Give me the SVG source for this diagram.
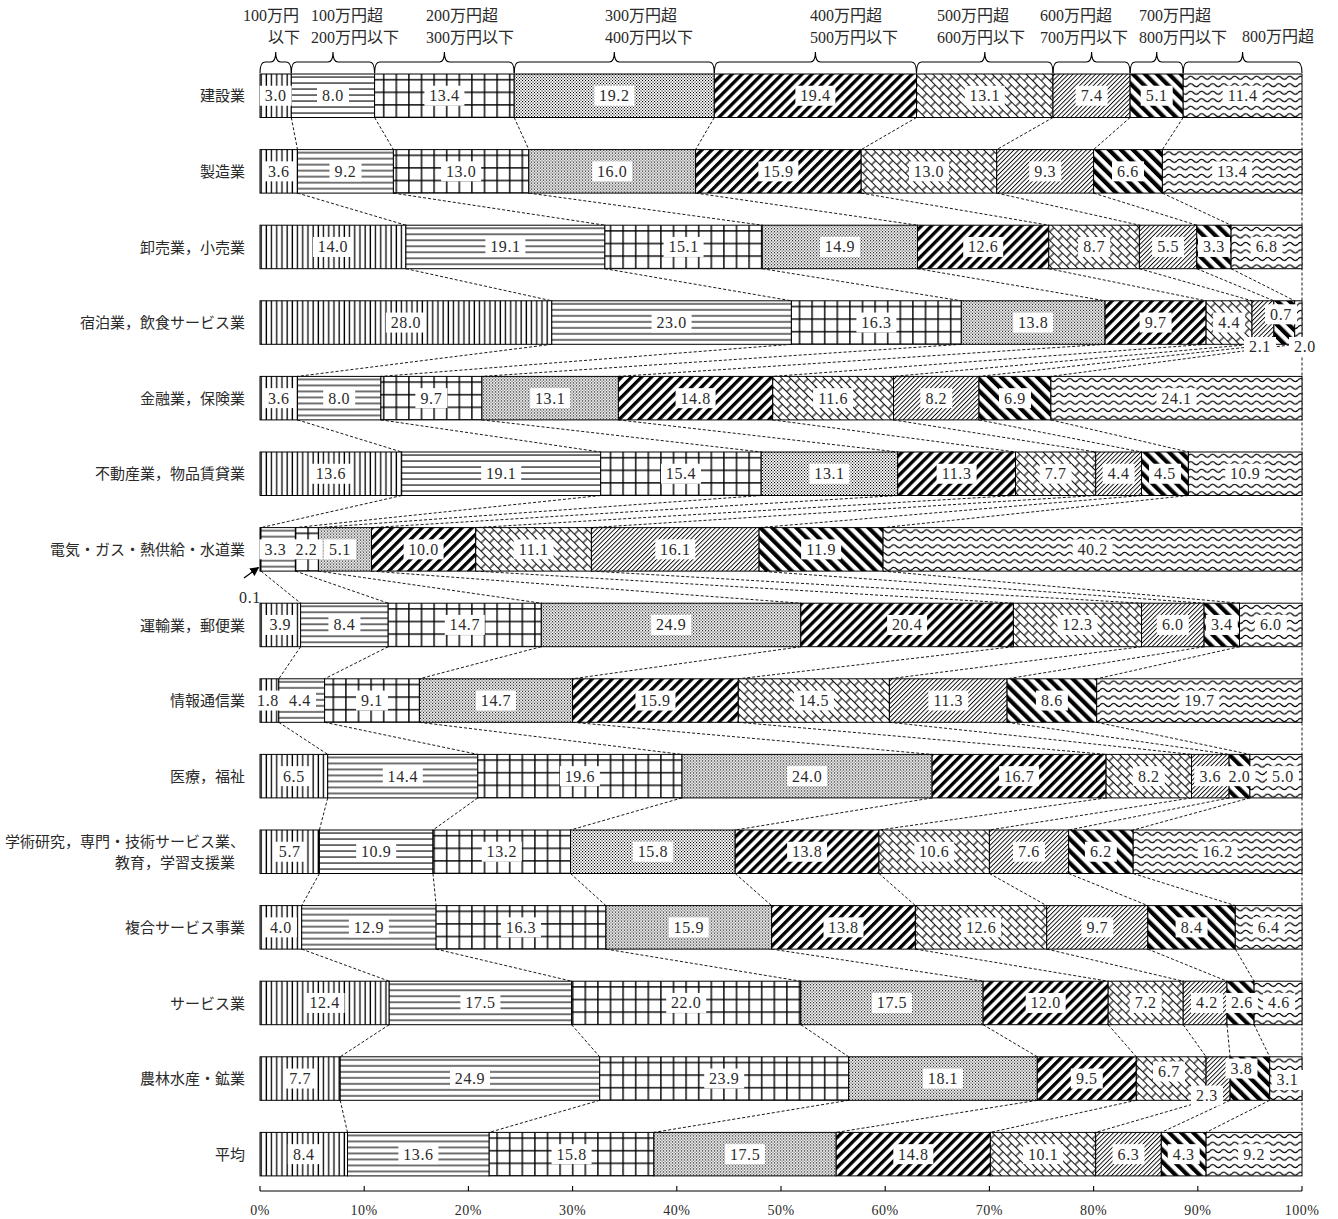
<svg xmlns="http://www.w3.org/2000/svg" xmlns:xlink="http://www.w3.org/1999/xlink" width="1338" height="1219" viewBox="0 0 1338 1219">
<style>
.bg{fill:#fff}
.row rect{stroke:#000;stroke-width:1}
.f1{fill:url(#p1)}.f2{fill:url(#p2)}.f3{fill:url(#p3)}.f4{fill:url(#p4)}.f5{fill:url(#p5)}.f6{fill:url(#p6)}.f7{fill:url(#p7)}.f8{fill:url(#p8)}.f9{fill:url(#p9)}
.v{font-family:"Liberation Serif",serif;font-size:16px;letter-spacing:0.6px;text-anchor:middle;fill:#2a2a2a}
.hd{font-family:"Liberation Serif","Noto Sans CJK JP",serif;font-size:16px;fill:#2a2a2a}
.rl{font-family:"Noto Sans CJK JP","Noto Sans",sans-serif;font-size:15px;text-anchor:end;fill:#2a2a2a}
.tk{font-family:"Liberation Serif",serif;font-size:14px;letter-spacing:0.5px;text-anchor:middle;fill:#2a2a2a}
.br{fill:none;stroke:#000;stroke-width:1.1}
.cn{fill:none;stroke:#000;stroke-width:0.9;stroke-dasharray:3 2}
.ax{fill:none;stroke:#000;stroke-width:1.1}
</style>
<defs>
<pattern id="p1" patternUnits="userSpaceOnUse" width="5.2" height="10"><rect width="5.2" height="10" fill="#fff"/><rect x="0.5" width="1.3" height="10" fill="#000"/></pattern>
<pattern id="p2" patternUnits="userSpaceOnUse" width="10" height="6"><rect width="10" height="6" fill="#fff"/><rect y="2.5" width="10" height="1.1" fill="#000"/></pattern>
<pattern id="p3" patternUnits="userSpaceOnUse" width="12.6" height="12.6"><rect width="12.6" height="12.6" fill="#fff"/><rect x="5" width="1.4" height="12.6" fill="#000"/><rect y="5" width="12.6" height="1.4" fill="#000"/></pattern>
<pattern id="p4" patternUnits="userSpaceOnUse" width="3" height="3"><rect width="3" height="3" fill="#fff"/><rect width="1.1" height="1.1" fill="#000"/><rect x="1.5" y="1.5" width="1.1" height="1.1" fill="#000"/></pattern>
<pattern id="p5" patternUnits="userSpaceOnUse" width="7.07" height="10" patternTransform="rotate(45)"><rect width="7.07" height="10" fill="#fff"/><rect width="3.3" height="10" fill="#000"/></pattern>
<pattern id="p6" patternUnits="userSpaceOnUse" width="12" height="12" patternTransform="rotate(45)"><rect width="12" height="12" fill="#fff"/><path d="M0 0.5H12M0 6.5H12M3 0.5V6.5M9 6.5V12.5" stroke="#111" stroke-width="1.2" fill="none"/></pattern>
<pattern id="p7" patternUnits="userSpaceOnUse" width="3.2" height="10" patternTransform="rotate(45)"><rect width="3.2" height="10" fill="#fff"/><rect width="0.9" height="10" fill="#000"/></pattern>
<pattern id="p8" patternUnits="userSpaceOnUse" width="8.5" height="10" patternTransform="rotate(-45)"><rect width="8.5" height="10" fill="#fff"/><rect width="4.2" height="10" fill="#000"/></pattern>
<pattern id="p9" patternUnits="userSpaceOnUse" width="11" height="7.5"><rect width="11" height="7.5" fill="#fff"/><path d="M0 3.75Q2.75 0.75 5.5 3.75T11 3.75" stroke="#000" stroke-width="1.3" fill="none"/></pattern>
<rect id="b3" class="bg" x="-16" y="-10" width="32" height="20"/>
<rect id="b4" class="bg" x="-20" y="-10" width="40" height="20"/>
<marker id="ah" viewBox="0 0 10 10" refX="9" refY="5" markerWidth="7" markerHeight="7" orient="auto"><path d="M0 0L10 5L0 10z" fill="#000"/></marker>
</defs>
<rect width="1338" height="1219" fill="#fff"/>

<g id="header">
<text class="hd" x="243" y="21">100万円</text><text class="hd" x="268" y="43">以下</text>
<text class="hd" x="311" y="21">100万円超</text><text class="hd" x="311" y="43">200万円以下</text>
<text class="hd" x="426" y="21">200万円超</text><text class="hd" x="426" y="43">300万円以下</text>
<text class="hd" x="605" y="21">300万円超</text><text class="hd" x="605" y="43">400万円以下</text>
<text class="hd" x="810" y="21">400万円超</text><text class="hd" x="810" y="43">500万円以下</text>
<text class="hd" x="937" y="21">500万円超</text><text class="hd" x="937" y="43">600万円以下</text>
<text class="hd" x="1040" y="21">600万円超</text><text class="hd" x="1040" y="43">700万円以下</text>
<text class="hd" x="1139" y="21">700万円超</text><text class="hd" x="1139" y="43">800万円以下</text>
<text class="hd" x="1242" y="42">800万円超</text>
<path class="br" d="M260,73Q260,62 265,62L270.7,62Q275.7,62 275.7,52Q275.7,62 280.7,62L286.3,62Q291.3,62 291.3,73"/>
<path class="br" d="M291.3,73Q291.3,62 296.3,62L328,62Q333,62 333,52Q333,62 338,62L369.6,62Q374.6,62 374.6,73"/>
<path class="br" d="M374.6,73Q374.6,62 379.6,62L439.4,62Q444.4,62 444.4,52Q444.4,62 449.4,62L509.2,62Q514.2,62 514.2,73"/>
<path class="br" d="M514.2,73Q514.2,62 519.2,62L609.3,62Q614.3,62 614.3,52Q614.3,62 619.3,62L709.3,62Q714.3,62 714.3,73"/>
<path class="br" d="M714.3,73Q714.3,62 719.3,62L810.4,62Q815.4,62 815.4,52Q815.4,62 820.4,62L911.5,62Q916.5,62 916.5,73"/>
<path class="br" d="M916.5,73Q916.5,62 921.5,62L979.8,62Q984.8,62 984.8,52Q984.8,62 989.8,62L1048,62Q1053,62 1053,73"/>
<path class="br" d="M1053,73Q1053,62 1058,62L1086.6,62Q1091.6,62 1091.6,52Q1091.6,62 1096.6,62L1125.1,62Q1130.1,62 1130.1,73"/>
<path class="br" d="M1130.1,73Q1130.1,62 1135.1,62L1151.7,62Q1156.7,62 1156.7,52Q1156.7,62 1161.7,62L1178.2,62Q1183.2,62 1183.2,73"/>
<path class="br" d="M1183.2,73Q1183.2,62 1188.2,62L1237.6,62Q1242.6,62 1242.6,52Q1242.6,62 1247.6,62L1297,62Q1302,62 1302,73"/>
</g>

<g id="row-labels">
<text class="rl" x="245" y="101.3">建設業</text>
<text class="rl" x="245" y="176.9">製造業</text>
<text class="rl" x="245" y="252.5">卸売業，小売業</text>
<text class="rl" x="245" y="328.1">宿泊業，飲食サービス業</text>
<text class="rl" x="245" y="403.7">金融業，保険業</text>
<text class="rl" x="245" y="479.3">不動産業，物品賃貸業</text>
<text class="rl" x="245" y="554.9">電気・ガス・熱供給・水道業</text>
<text class="rl" x="245" y="630.5">運輸業，郵便業</text>
<text class="rl" x="245" y="706.1">情報通信業</text>
<text class="rl" x="245" y="781.7">医療，福祉</text>
<text class="rl" x="245" y="847">学術研究，専門・技術サービス業、</text>
<text class="rl" x="235" y="868">教育，学習支援業</text>
<text class="rl" x="245" y="932.9">複合サービス事業</text>
<text class="rl" x="245" y="1008.5">サービス業</text>
<text class="rl" x="245" y="1084.1">農林水産・鉱業</text>
<text class="rl" x="245" y="1159.7">平均</text>
</g>

<g id="connectors">
<path class="cn" d="M1302 117.5V1132.4"/>
<path class="cn" d="M291.3 117.5L297.5 149.6M374.6 117.5L393.4 149.6M514.2 117.5L528.8 149.6M714.3 117.5L695.6 149.6M916.5 117.5L861.2 149.6M1053 117.5L996.7 149.6M1130.1 117.5L1093.6 149.6M1183.2 117.5L1162.4 149.6"/>
<path class="cn" d="M297.5 193.1L405.9 225.2M393.4 193.1L604.9 225.2M528.8 193.1L762.2 225.2M695.6 193.1L917.5 225.2M861.2 193.1L1048.8 225.2M996.7 193.1L1139.4 225.2M1093.6 193.1L1196.8 225.2M1162.4 193.1L1231.1 225.2"/>
<path class="cn" d="M405.9 268.7L551.8 300.8M604.9 268.7L791.4 300.8M762.2 268.7L961.3 300.8M917.5 268.7L1105.1 300.8M1048.8 268.7L1206.1 300.8M1139.4 268.7L1252 300.8M1196.8 268.7L1273.9 300.8M1231.1 268.7L1294.7 300.8"/>
<path class="cn" d="M551.8 344.3L297.5 376.4M791.4 344.3L380.9 376.4M961.3 344.3L481.9 376.4M1105.1 344.3L618.4 376.4M1206.1 344.3L772.7 376.4M1252 344.3L893.5 376.4M1273.9 344.3L979 376.4M1294.7 344.3L1050.9 376.4"/>
<path class="cn" d="M297.5 419.9L401.7 452M380.9 419.9L600.7 452M481.9 419.9L761.2 452M618.4 419.9L897.7 452M772.7 419.9L1015.5 452M893.5 419.9L1095.7 452M979 419.9L1141.5 452M1050.9 419.9L1188.4 452"/>
<path class="cn" d="M401.7 495.5L261 527.6M600.7 495.5L295.4 527.6M761.2 495.5L318.4 527.6M897.7 495.5L371.5 527.6M1015.5 495.5L475.7 527.6M1095.7 495.5L591.4 527.6M1141.5 495.5L759.1 527.6M1188.4 495.5L883.1 527.6"/>
<path class="cn" d="M261 571.1L300.6 603.2M295.4 571.1L388.2 603.2M318.4 571.1L541.3 603.2M371.5 571.1L800.8 603.2M475.7 571.1L1013.4 603.2M591.4 571.1L1141.5 603.2M759.1 571.1L1204.1 603.2M883.1 571.1L1239.5 603.2"/>
<path class="cn" d="M300.6 646.7L278.8 678.8M388.2 646.7L324.6 678.8M541.3 646.7L419.4 678.8M800.8 646.7L572.6 678.8M1013.4 646.7L738.3 678.8M1141.5 646.7L889.4 678.8M1204.1 646.7L1007.1 678.8M1239.5 646.7L1096.7 678.8"/>
<path class="cn" d="M278.8 722.3L327.7 754.4M324.6 722.3L477.8 754.4M419.4 722.3L682 754.4M572.6 722.3L932.1 754.4M738.3 722.3L1106.1 754.4M889.4 722.3L1191.5 754.4M1007.1 722.3L1229.1 754.4M1096.7 722.3L1249.9 754.4"/>
<path class="cn" d="M327.7 797.9L319.4 830M477.8 797.9L433 830M682 797.9L570.5 830M932.1 797.9L735.2 830M1106.1 797.9L879 830M1191.5 797.9L989.4 830M1229.1 797.9L1068.6 830M1249.9 797.9L1133.2 830"/>
<path class="cn" d="M319.4 873.5L301.7 905.6M433 873.5L436.1 905.6M570.5 873.5L605.9 905.6M735.2 873.5L771.6 905.6M879 873.5L915.4 905.6M989.4 873.5L1046.7 905.6M1068.6 873.5L1147.8 905.6M1133.2 873.5L1235.3 905.6"/>
<path class="cn" d="M301.7 949.1L389.2 981.2M436.1 949.1L571.6 981.2M605.9 949.1L800.8 981.2M771.6 949.1L983.1 981.2M915.4 949.1L1108.2 981.2M1046.7 949.1L1183.2 981.2M1147.8 949.1L1227 981.2M1235.3 949.1L1254.1 981.2"/>
<path class="cn" d="M389.2 1024.7L340.2 1056.8M571.6 1024.7L599.7 1056.8M800.8 1024.7L848.7 1056.8M983.1 1024.7L1037.3 1056.8M1108.2 1024.7L1136.3 1056.8M1183.2 1024.7L1206.1 1056.8M1227 1024.7L1230.1 1056.8M1254.1 1024.7L1269.7 1056.8"/>
<path class="cn" d="M340.2 1100.3L347.5 1132.4M599.7 1100.3L489.2 1132.4M848.7 1100.3L653.9 1132.4M1037.3 1100.3L836.2 1132.4M1136.3 1100.3L990.4 1132.4M1206.1 1100.3L1095.7 1132.4M1230.1 1100.3L1161.3 1132.4M1269.7 1100.3L1206.1 1132.4"/>
</g>

<g id="row-kensetsu" class="row" transform="translate(0,74)">
<rect class="f1" x="260" width="31.3" height="43.5"/><rect class="f2" x="291.3" width="83.3" height="43.5"/><rect class="f3" x="374.6" width="139.6" height="43.5"/><rect class="f4" x="514.2" width="200.1" height="43.5"/><rect class="f5" x="714.3" width="202.2" height="43.5"/><rect class="f6" x="916.5" width="136.5" height="43.5"/><rect class="f7" x="1053" width="77.1" height="43.5"/><rect class="f8" x="1130.1" width="53.1" height="43.5"/><rect class="f9" x="1183.2" width="118.8" height="43.5"/>
<use href="#b3" x="275.7" y="21.75"/><text class="v" x="275.7" y="27.25">3.0</text>
<use href="#b3" x="333" y="21.75"/><text class="v" x="333" y="27.25">8.0</text>
<use href="#b4" x="444.4" y="21.75"/><text class="v" x="444.4" y="27.25">13.4</text>
<use href="#b4" x="614.3" y="21.75"/><text class="v" x="614.3" y="27.25">19.2</text>
<use href="#b4" x="815.4" y="21.75"/><text class="v" x="815.4" y="27.25">19.4</text>
<use href="#b4" x="984.8" y="21.75"/><text class="v" x="984.8" y="27.25">13.1</text>
<use href="#b3" x="1091.6" y="21.75"/><text class="v" x="1091.6" y="27.25">7.4</text>
<use href="#b3" x="1156.7" y="21.75"/><text class="v" x="1156.7" y="27.25">5.1</text>
<use href="#b4" x="1242.6" y="21.75"/><text class="v" x="1242.6" y="27.25">11.4</text>
</g>

<g id="row-seizo" class="row" transform="translate(0,149.6)">
<rect class="f1" x="260" width="37.5" height="43.5"/><rect class="f2" x="297.5" width="95.9" height="43.5"/><rect class="f3" x="393.4" width="135.4" height="43.5"/><rect class="f4" x="528.8" width="166.8" height="43.5"/><rect class="f5" x="695.6" width="165.6" height="43.5"/><rect class="f6" x="861.2" width="135.5" height="43.5"/><rect class="f7" x="996.7" width="96.9" height="43.5"/><rect class="f8" x="1093.6" width="68.8" height="43.5"/><rect class="f9" x="1162.4" width="139.6" height="43.5"/>
<use href="#b3" x="278.8" y="21.75"/><text class="v" x="278.8" y="27.25">3.6</text>
<use href="#b3" x="345.5" y="21.75"/><text class="v" x="345.5" y="27.25">9.2</text>
<use href="#b4" x="461.1" y="21.75"/><text class="v" x="461.1" y="27.25">13.0</text>
<use href="#b4" x="612.2" y="21.75"/><text class="v" x="612.2" y="27.25">16.0</text>
<use href="#b4" x="778.4" y="21.75"/><text class="v" x="778.4" y="27.25">15.9</text>
<use href="#b4" x="929" y="21.75"/><text class="v" x="929" y="27.25">13.0</text>
<use href="#b3" x="1045.2" y="21.75"/><text class="v" x="1045.2" y="27.25">9.3</text>
<use href="#b3" x="1128" y="21.75"/><text class="v" x="1128" y="27.25">6.6</text>
<use href="#b4" x="1232.2" y="21.75"/><text class="v" x="1232.2" y="27.25">13.4</text>
</g>

<g id="row-oroshi" class="row" transform="translate(0,225.2)">
<rect class="f1" x="260" width="145.9" height="43.5"/><rect class="f2" x="405.9" width="199" height="43.5"/><rect class="f3" x="604.9" width="157.3" height="43.5"/><rect class="f4" x="762.2" width="155.3" height="43.5"/><rect class="f5" x="917.5" width="131.3" height="43.5"/><rect class="f6" x="1048.8" width="90.6" height="43.5"/><rect class="f7" x="1139.4" width="57.4" height="43.5"/><rect class="f8" x="1196.8" width="34.3" height="43.5"/><rect class="f9" x="1231.1" width="70.9" height="43.5"/>
<use href="#b4" x="333" y="21.75"/><text class="v" x="333" y="27.25">14.0</text>
<use href="#b4" x="505.4" y="21.75"/><text class="v" x="505.4" y="27.25">19.1</text>
<use href="#b4" x="683.6" y="21.75"/><text class="v" x="683.6" y="27.25">15.1</text>
<use href="#b4" x="839.9" y="21.75"/><text class="v" x="839.9" y="27.25">14.9</text>
<use href="#b4" x="983.2" y="21.75"/><text class="v" x="983.2" y="27.25">12.6</text>
<use href="#b3" x="1094.1" y="21.75"/><text class="v" x="1094.1" y="27.25">8.7</text>
<use href="#b3" x="1168.1" y="21.75"/><text class="v" x="1168.1" y="27.25">5.5</text>
<use href="#b3" x="1214" y="21.75"/><text class="v" x="1214" y="27.25">3.3</text>
<use href="#b3" x="1266.6" y="21.75"/><text class="v" x="1266.6" y="27.25">6.8</text>
</g>

<g id="row-shukuhaku" class="row" transform="translate(0,300.8)">
<rect class="f1" x="260" width="291.8" height="43.5"/><rect class="f2" x="551.8" width="239.6" height="43.5"/><rect class="f3" x="791.4" width="169.9" height="43.5"/><rect class="f4" x="961.3" width="143.8" height="43.5"/><rect class="f5" x="1105.1" width="101" height="43.5"/><rect class="f6" x="1206.1" width="45.9" height="43.5"/><rect class="f7" x="1252" width="21.9" height="43.5"/><rect class="f8" x="1273.9" width="20.8" height="43.5"/><rect class="f9" x="1294.7" width="7.3" height="43.5"/>
<use href="#b4" x="405.9" y="21.75"/><text class="v" x="405.9" y="27.25">28.0</text>
<use href="#b4" x="671.6" y="21.75"/><text class="v" x="671.6" y="27.25">23.0</text>
<use href="#b4" x="876.4" y="21.75"/><text class="v" x="876.4" y="27.25">16.3</text>
<use href="#b4" x="1033.2" y="21.75"/><text class="v" x="1033.2" y="27.25">13.8</text>
<use href="#b3" x="1155.6" y="21.75"/><text class="v" x="1155.6" y="27.25">9.7</text>
<use href="#b3" x="1229.1" y="21.75"/><text class="v" x="1229.1" y="27.25">4.4</text>
<use href="#b3" x="1260" y="46.2"/><text class="v" x="1260" y="51.7">2.1</text>
<use href="#b3" x="1305" y="46.2"/><text class="v" x="1305" y="51.7">2.0</text>
<use href="#b3" x="1281" y="13.5"/><text class="v" x="1281" y="19">0.7</text>
</g>

<g id="row-kinyu" class="row" transform="translate(0,376.4)">
<rect class="f1" x="260" width="37.5" height="43.5"/><rect class="f2" x="297.5" width="83.4" height="43.5"/><rect class="f3" x="380.9" width="101" height="43.5"/><rect class="f4" x="481.9" width="136.5" height="43.5"/><rect class="f5" x="618.4" width="154.3" height="43.5"/><rect class="f6" x="772.7" width="120.8" height="43.5"/><rect class="f7" x="893.5" width="85.5" height="43.5"/><rect class="f8" x="979" width="71.9" height="43.5"/><rect class="f9" x="1050.9" width="251.1" height="43.5"/>
<use href="#b3" x="278.8" y="21.75"/><text class="v" x="278.8" y="27.25">3.6</text>
<use href="#b3" x="339.2" y="21.75"/><text class="v" x="339.2" y="27.25">8.0</text>
<use href="#b3" x="431.4" y="21.75"/><text class="v" x="431.4" y="27.25">9.7</text>
<use href="#b4" x="550.2" y="21.75"/><text class="v" x="550.2" y="27.25">13.1</text>
<use href="#b4" x="695.6" y="21.75"/><text class="v" x="695.6" y="27.25">14.8</text>
<use href="#b4" x="833.1" y="21.75"/><text class="v" x="833.1" y="27.25">11.6</text>
<use href="#b3" x="936.3" y="21.75"/><text class="v" x="936.3" y="27.25">8.2</text>
<use href="#b3" x="1015" y="21.75"/><text class="v" x="1015" y="27.25">6.9</text>
<use href="#b4" x="1176.5" y="21.75"/><text class="v" x="1176.5" y="27.25">24.1</text>
</g>

<g id="row-fudosan" class="row" transform="translate(0,452)">
<rect class="f1" x="260" width="141.7" height="43.5"/><rect class="f2" x="401.7" width="199" height="43.5"/><rect class="f3" x="600.7" width="160.5" height="43.5"/><rect class="f4" x="761.2" width="136.5" height="43.5"/><rect class="f5" x="897.7" width="117.8" height="43.5"/><rect class="f6" x="1015.5" width="80.2" height="43.5"/><rect class="f7" x="1095.7" width="45.8" height="43.5"/><rect class="f8" x="1141.5" width="46.9" height="43.5"/><rect class="f9" x="1188.4" width="113.6" height="43.5"/>
<use href="#b4" x="330.9" y="21.75"/><text class="v" x="330.9" y="27.25">13.6</text>
<use href="#b4" x="501.2" y="21.75"/><text class="v" x="501.2" y="27.25">19.1</text>
<use href="#b4" x="681" y="21.75"/><text class="v" x="681" y="27.25">15.4</text>
<use href="#b4" x="829.5" y="21.75"/><text class="v" x="829.5" y="27.25">13.1</text>
<use href="#b4" x="956.6" y="21.75"/><text class="v" x="956.6" y="27.25">11.3</text>
<use href="#b3" x="1055.6" y="21.75"/><text class="v" x="1055.6" y="27.25">7.7</text>
<use href="#b3" x="1118.6" y="21.75"/><text class="v" x="1118.6" y="27.25">4.4</text>
<use href="#b3" x="1165" y="21.75"/><text class="v" x="1165" y="27.25">4.5</text>
<use href="#b4" x="1245.2" y="21.75"/><text class="v" x="1245.2" y="27.25">10.9</text>
</g>

<g id="row-denki" class="row" transform="translate(0,527.6)">
<rect class="f1" x="260" width="1" height="43.5"/><rect class="f2" x="261" width="34.4" height="43.5"/><rect class="f3" x="295.4" width="23" height="43.5"/><rect class="f4" x="318.4" width="53.1" height="43.5"/><rect class="f5" x="371.5" width="104.2" height="43.5"/><rect class="f6" x="475.7" width="115.7" height="43.5"/><rect class="f7" x="591.4" width="167.7" height="43.5"/><rect class="f8" x="759.1" width="124" height="43.5"/><rect class="f9" x="883.1" width="418.9" height="43.5"/>
<use href="#b3" x="275.5" y="21.75"/><text class="v" x="275.5" y="27.25">3.3</text>
<use href="#b3" x="306.5" y="21.75"/><text class="v" x="306.5" y="27.25">2.2</text>
<use href="#b3" x="340" y="21.75"/><text class="v" x="340" y="27.25">5.1</text>
<use href="#b4" x="423.6" y="21.75"/><text class="v" x="423.6" y="27.25">10.0</text>
<use href="#b4" x="533.6" y="21.75"/><text class="v" x="533.6" y="27.25">11.1</text>
<use href="#b4" x="675.3" y="21.75"/><text class="v" x="675.3" y="27.25">16.1</text>
<use href="#b4" x="821.1" y="21.75"/><text class="v" x="821.1" y="27.25">11.9</text>
<use href="#b4" x="1092.6" y="21.75"/><text class="v" x="1092.6" y="27.25">40.2</text>
<path d="M244,578L258.5,567.5" stroke="#000" stroke-width="1.3" marker-end="url(#ah)" transform="translate(0,-527.6)"/>
<text class="v" x="250" y="75.4">0.1</text>
</g>

<g id="row-unyu" class="row" transform="translate(0,603.2)">
<rect class="f1" x="260" width="40.6" height="43.5"/><rect class="f2" x="300.6" width="87.6" height="43.5"/><rect class="f3" x="388.2" width="153.1" height="43.5"/><rect class="f4" x="541.3" width="259.5" height="43.5"/><rect class="f5" x="800.8" width="212.6" height="43.5"/><rect class="f6" x="1013.4" width="128.1" height="43.5"/><rect class="f7" x="1141.5" width="62.6" height="43.5"/><rect class="f8" x="1204.1" width="35.4" height="43.5"/><rect class="f9" x="1239.5" width="62.5" height="43.5"/>
<use href="#b3" x="280.3" y="21.75"/><text class="v" x="280.3" y="27.25">3.9</text>
<use href="#b3" x="344.4" y="21.75"/><text class="v" x="344.4" y="27.25">8.4</text>
<use href="#b4" x="464.8" y="21.75"/><text class="v" x="464.8" y="27.25">14.7</text>
<use href="#b4" x="671.1" y="21.75"/><text class="v" x="671.1" y="27.25">24.9</text>
<use href="#b4" x="907.1" y="21.75"/><text class="v" x="907.1" y="27.25">20.4</text>
<use href="#b4" x="1077.5" y="21.75"/><text class="v" x="1077.5" y="27.25">12.3</text>
<use href="#b3" x="1172.8" y="21.75"/><text class="v" x="1172.8" y="27.25">6.0</text>
<use href="#b3" x="1221.8" y="21.75"/><text class="v" x="1221.8" y="27.25">3.4</text>
<use href="#b3" x="1270.8" y="21.75"/><text class="v" x="1270.8" y="27.25">6.0</text>
</g>

<g id="row-joho" class="row" transform="translate(0,678.8)">
<rect class="f1" x="260" width="18.8" height="43.5"/><rect class="f2" x="278.8" width="45.8" height="43.5"/><rect class="f3" x="324.6" width="94.8" height="43.5"/><rect class="f4" x="419.4" width="153.2" height="43.5"/><rect class="f5" x="572.6" width="165.7" height="43.5"/><rect class="f6" x="738.3" width="151.1" height="43.5"/><rect class="f7" x="889.4" width="117.7" height="43.5"/><rect class="f8" x="1007.1" width="89.6" height="43.5"/><rect class="f9" x="1096.7" width="205.3" height="43.5"/>
<use href="#b3" x="268" y="21.75"/><text class="v" x="268" y="27.25">1.8</text>
<use href="#b3" x="300" y="21.75"/><text class="v" x="300" y="27.25">4.4</text>
<use href="#b3" x="372" y="21.75"/><text class="v" x="372" y="27.25">9.1</text>
<use href="#b4" x="496" y="21.75"/><text class="v" x="496" y="27.25">14.7</text>
<use href="#b4" x="655.5" y="21.75"/><text class="v" x="655.5" y="27.25">15.9</text>
<use href="#b4" x="813.9" y="21.75"/><text class="v" x="813.9" y="27.25">14.5</text>
<use href="#b4" x="948.3" y="21.75"/><text class="v" x="948.3" y="27.25">11.3</text>
<use href="#b3" x="1051.9" y="21.75"/><text class="v" x="1051.9" y="27.25">8.6</text>
<use href="#b4" x="1199.4" y="21.75"/><text class="v" x="1199.4" y="27.25">19.7</text>
</g>

<g id="row-iryo" class="row" transform="translate(0,754.4)">
<rect class="f1" x="260" width="67.7" height="43.5"/><rect class="f2" x="327.7" width="150.1" height="43.5"/><rect class="f3" x="477.8" width="204.2" height="43.5"/><rect class="f4" x="682" width="250.1" height="43.5"/><rect class="f5" x="932.1" width="174" height="43.5"/><rect class="f6" x="1106.1" width="85.4" height="43.5"/><rect class="f7" x="1191.5" width="37.6" height="43.5"/><rect class="f8" x="1229.1" width="20.8" height="43.5"/><rect class="f9" x="1249.9" width="52.1" height="43.5"/>
<use href="#b3" x="293.9" y="21.75"/><text class="v" x="293.9" y="27.25">6.5</text>
<use href="#b4" x="402.8" y="21.75"/><text class="v" x="402.8" y="27.25">14.4</text>
<use href="#b4" x="579.9" y="21.75"/><text class="v" x="579.9" y="27.25">19.6</text>
<use href="#b4" x="807.1" y="21.75"/><text class="v" x="807.1" y="27.25">24.0</text>
<use href="#b4" x="1019.1" y="21.75"/><text class="v" x="1019.1" y="27.25">16.7</text>
<use href="#b3" x="1148.8" y="21.75"/><text class="v" x="1148.8" y="27.25">8.2</text>
<use href="#b3" x="1210.3" y="21.75"/><text class="v" x="1210.3" y="27.25">3.6</text>
<use href="#b3" x="1239.5" y="21.75"/><text class="v" x="1239.5" y="27.25">2.0</text>
<use href="#b3" x="1283" y="21.75"/><text class="v" x="1283" y="27.25">5.0</text>
</g>

<g id="row-gakujutsu" class="row" transform="translate(0,830)">
<rect class="f1" x="260" width="59.4" height="43.5"/><rect class="f2" x="319.4" width="113.6" height="43.5"/><rect class="f3" x="433" width="137.5" height="43.5"/><rect class="f4" x="570.5" width="164.7" height="43.5"/><rect class="f5" x="735.2" width="143.8" height="43.5"/><rect class="f6" x="879" width="110.4" height="43.5"/><rect class="f7" x="989.4" width="79.2" height="43.5"/><rect class="f8" x="1068.6" width="64.6" height="43.5"/><rect class="f9" x="1133.2" width="168.8" height="43.5"/>
<use href="#b3" x="289.7" y="21.75"/><text class="v" x="289.7" y="27.25">5.7</text>
<use href="#b4" x="376.2" y="21.75"/><text class="v" x="376.2" y="27.25">10.9</text>
<use href="#b4" x="501.8" y="21.75"/><text class="v" x="501.8" y="27.25">13.2</text>
<use href="#b4" x="652.9" y="21.75"/><text class="v" x="652.9" y="27.25">15.8</text>
<use href="#b4" x="807.1" y="21.75"/><text class="v" x="807.1" y="27.25">13.8</text>
<use href="#b4" x="934.2" y="21.75"/><text class="v" x="934.2" y="27.25">10.6</text>
<use href="#b3" x="1029" y="21.75"/><text class="v" x="1029" y="27.25">7.6</text>
<use href="#b3" x="1100.9" y="21.75"/><text class="v" x="1100.9" y="27.25">6.2</text>
<use href="#b4" x="1217.6" y="21.75"/><text class="v" x="1217.6" y="27.25">16.2</text>
</g>

<g id="row-fukugo" class="row" transform="translate(0,905.6)">
<rect class="f1" x="260" width="41.7" height="43.5"/><rect class="f2" x="301.7" width="134.4" height="43.5"/><rect class="f3" x="436.1" width="169.8" height="43.5"/><rect class="f4" x="605.9" width="165.7" height="43.5"/><rect class="f5" x="771.6" width="143.8" height="43.5"/><rect class="f6" x="915.4" width="131.3" height="43.5"/><rect class="f7" x="1046.7" width="101.1" height="43.5"/><rect class="f8" x="1147.8" width="87.5" height="43.5"/><rect class="f9" x="1235.3" width="66.7" height="43.5"/>
<use href="#b3" x="280.9" y="21.75"/><text class="v" x="280.9" y="27.25">4.0</text>
<use href="#b4" x="368.9" y="21.75"/><text class="v" x="368.9" y="27.25">12.9</text>
<use href="#b4" x="521" y="21.75"/><text class="v" x="521" y="27.25">16.3</text>
<use href="#b4" x="688.8" y="21.75"/><text class="v" x="688.8" y="27.25">15.9</text>
<use href="#b4" x="843.5" y="21.75"/><text class="v" x="843.5" y="27.25">13.8</text>
<use href="#b4" x="981.1" y="21.75"/><text class="v" x="981.1" y="27.25">12.6</text>
<use href="#b3" x="1097.3" y="21.75"/><text class="v" x="1097.3" y="27.25">9.7</text>
<use href="#b3" x="1191.6" y="21.75"/><text class="v" x="1191.6" y="27.25">8.4</text>
<use href="#b3" x="1268.7" y="21.75"/><text class="v" x="1268.7" y="27.25">6.4</text>
</g>

<g id="row-service" class="row" transform="translate(0,981.2)">
<rect class="f1" x="260" width="129.2" height="43.5"/><rect class="f2" x="389.2" width="182.4" height="43.5"/><rect class="f3" x="571.6" width="229.2" height="43.5"/><rect class="f4" x="800.8" width="182.3" height="43.5"/><rect class="f5" x="983.1" width="125.1" height="43.5"/><rect class="f6" x="1108.2" width="75" height="43.5"/><rect class="f7" x="1183.2" width="43.8" height="43.5"/><rect class="f8" x="1227" width="27.1" height="43.5"/><rect class="f9" x="1254.1" width="47.9" height="43.5"/>
<use href="#b4" x="324.6" y="21.75"/><text class="v" x="324.6" y="27.25">12.4</text>
<use href="#b4" x="480.4" y="21.75"/><text class="v" x="480.4" y="27.25">17.5</text>
<use href="#b4" x="686.2" y="21.75"/><text class="v" x="686.2" y="27.25">22.0</text>
<use href="#b4" x="892" y="21.75"/><text class="v" x="892" y="27.25">17.5</text>
<use href="#b4" x="1045.7" y="21.75"/><text class="v" x="1045.7" y="27.25">12.0</text>
<use href="#b3" x="1145.7" y="21.75"/><text class="v" x="1145.7" y="27.25">7.2</text>
<use href="#b3" x="1207" y="21.75"/><text class="v" x="1207" y="27.25">4.2</text>
<use href="#b3" x="1242" y="21.75"/><text class="v" x="1242" y="27.25">2.6</text>
<use href="#b3" x="1279" y="21.75"/><text class="v" x="1279" y="27.25">4.6</text>
</g>

<g id="row-norin" class="row" transform="translate(0,1056.8)">
<rect class="f1" x="260" width="80.2" height="43.5"/><rect class="f2" x="340.2" width="259.5" height="43.5"/><rect class="f3" x="599.7" width="249" height="43.5"/><rect class="f4" x="848.7" width="188.6" height="43.5"/><rect class="f5" x="1037.3" width="99" height="43.5"/><rect class="f6" x="1136.3" width="69.8" height="43.5"/><rect class="f7" x="1206.1" width="24" height="43.5"/><rect class="f8" x="1230.1" width="39.6" height="43.5"/><rect class="f9" x="1269.7" width="32.3" height="43.5"/>
<use href="#b3" x="300.1" y="21.75"/><text class="v" x="300.1" y="27.25">7.7</text>
<use href="#b4" x="470" y="21.75"/><text class="v" x="470" y="27.25">24.9</text>
<use href="#b4" x="724.2" y="21.75"/><text class="v" x="724.2" y="27.25">23.9</text>
<use href="#b4" x="943" y="21.75"/><text class="v" x="943" y="27.25">18.1</text>
<use href="#b3" x="1086.8" y="21.75"/><text class="v" x="1086.8" y="27.25">9.5</text>
<use href="#b3" x="1169" y="14.7"/><text class="v" x="1169" y="20.2">6.7</text>
<use href="#b3" x="1207" y="38.7"/><text class="v" x="1207" y="44.2">2.3</text>
<use href="#b3" x="1241.5" y="11.7"/><text class="v" x="1241.5" y="17.2">3.8</text>
<use href="#b3" x="1287.5" y="23.2"/><text class="v" x="1287.5" y="28.7">3.1</text>
</g>

<g id="row-heikin" class="row" transform="translate(0,1132.4)">
<rect class="f1" x="260" width="87.5" height="43.5"/><rect class="f2" x="347.5" width="141.7" height="43.5"/><rect class="f3" x="489.2" width="164.7" height="43.5"/><rect class="f4" x="653.9" width="182.3" height="43.5"/><rect class="f5" x="836.2" width="154.2" height="43.5"/><rect class="f6" x="990.4" width="105.3" height="43.5"/><rect class="f7" x="1095.7" width="65.6" height="43.5"/><rect class="f8" x="1161.3" width="44.8" height="43.5"/><rect class="f9" x="1206.1" width="95.9" height="43.5"/>
<use href="#b3" x="303.8" y="21.75"/><text class="v" x="303.8" y="27.25">8.4</text>
<use href="#b4" x="418.4" y="21.75"/><text class="v" x="418.4" y="27.25">13.6</text>
<use href="#b4" x="571.6" y="21.75"/><text class="v" x="571.6" y="27.25">15.8</text>
<use href="#b4" x="745.1" y="21.75"/><text class="v" x="745.1" y="27.25">17.5</text>
<use href="#b4" x="913.3" y="21.75"/><text class="v" x="913.3" y="27.25">14.8</text>
<use href="#b4" x="1043.1" y="21.75"/><text class="v" x="1043.1" y="27.25">10.1</text>
<use href="#b3" x="1128.5" y="21.75"/><text class="v" x="1128.5" y="27.25">6.3</text>
<use href="#b3" x="1183.7" y="21.75"/><text class="v" x="1183.7" y="27.25">4.3</text>
<use href="#b3" x="1254.1" y="21.75"/><text class="v" x="1254.1" y="27.25">9.2</text>
</g>

<g id="axis">
<path class="ax" d="M260 1191H1302M260 1186V1191M364.2 1186V1191M468.4 1186V1191M572.6 1186V1191M676.8 1186V1191M781 1186V1191M885.2 1186V1191M989.4 1186V1191M1093.6 1186V1191M1197.8 1186V1191M1302 1186V1191"/>
<text class="tk" x="260" y="1215">0%</text>
<text class="tk" x="364.2" y="1215">10%</text>
<text class="tk" x="468.4" y="1215">20%</text>
<text class="tk" x="572.6" y="1215">30%</text>
<text class="tk" x="676.8" y="1215">40%</text>
<text class="tk" x="781" y="1215">50%</text>
<text class="tk" x="885.2" y="1215">60%</text>
<text class="tk" x="989.4" y="1215">70%</text>
<text class="tk" x="1093.6" y="1215">80%</text>
<text class="tk" x="1197.8" y="1215">90%</text>
<text class="tk" x="1302" y="1215">100%</text>
</g>
</svg>
